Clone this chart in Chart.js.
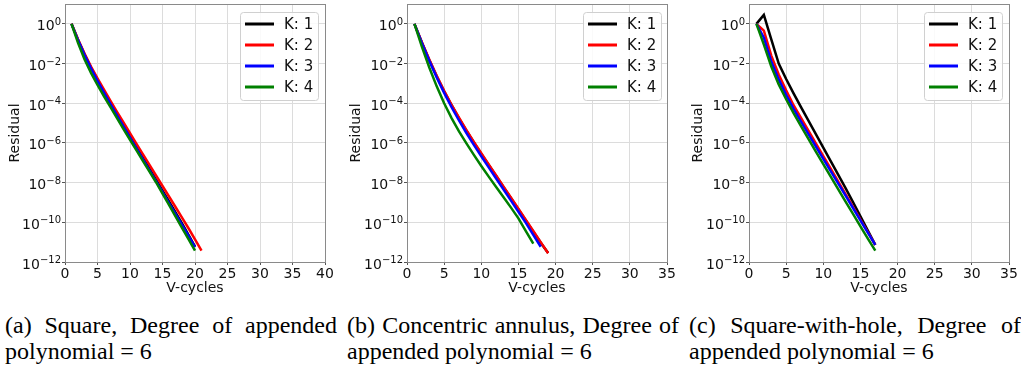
<!DOCTYPE html>
<html>
<head>
<meta charset="utf-8">
<title>Residual vs V-cycles</title>
<script src="https://cdn.jsdelivr.net/npm/chart.js@4.4.1/dist/chart.umd.min.js"></script>
<style>
    html, body { margin: 0; padding: 0; background: #fff; }
    body { width: 1021px; height: 366px; position: relative; overflow: hidden; }
    canvas.panel { position: absolute; top: 0; }
    .cap {
        position: absolute; top: 312px; width: 332px;
        font-family: "Liberation Serif", "DejaVu Serif", serif;
        font-size: 24px; line-height: 26px; color: #000;
    }
    .cap .l1 { text-align: justify; text-align-last: justify; }
</style>
</head>
<body>
<canvas id="chart-a" class="panel" width="340" height="300" style="left:0px"></canvas>
<canvas id="chart-b" class="panel" width="340" height="300" style="left:340px"></canvas>
<canvas id="chart-c" class="panel" width="341" height="300" style="left:680px"></canvas>

<div class="cap" style="left:5px"><div class="l1">(a) Square, Degree of appended</div><div>polynomial = 6</div></div>
<div class="cap" style="left:347px"><div class="l1">(b) Concentric annulus, Degree of</div><div>appended polynomial = 6</div></div>
<div class="cap" style="left:689px"><div class="l1">(c) Square-with-hole, Degree of</div><div>appended polynomial = 6</div></div>

<script>
// V-cycle numbers (x values)
const CYCLES = [1, 2, 3, 4, 5, 6, 7, 8, 9, 10, 11, 12, 13, 14, 15, 16, 17, 18, 19, 20, 21];

// log-scale ticks on the residual axis: 10^exp
const Y_TICKS = [1e0, 1e-2, 1e-4, 1e-6, 1e-8, 1e-10, 1e-12];
const Y_TICK_BASE = "10";
const Y_TICK_EXPONENTS = ["0", "\u22122", "\u22124", "\u22126", "\u22128", "\u221210", "\u221212"];

const SERIES_LABELS = ["K: 1", "K: 2", "K: 3", "K: 4"];
const SERIES_COLORS = ["#000000", "#ff0000", "#0000ff", "#008000"];

// residuals, stored as log10(residual)
// (a) Square
const SQ_K1 = [0, -0.80, -1.53, -2.20, -2.82, -3.40, -3.97, -4.53, -5.09, -5.65, -6.20, -6.75, -7.30, -7.85, -8.40, -8.95, -9.50, -10.06, -10.63, -11.23];
const SQ_K2 = [0, -0.78, -1.50, -2.15, -2.75, -3.32, -3.88, -4.43, -4.97, -5.51, -6.05, -6.58, -7.11, -7.64, -8.17, -8.70, -9.23, -9.76, -10.30, -10.86, -11.43];
const SQ_K3 = [0, -0.82, -1.56, -2.24, -2.87, -3.46, -4.04, -4.61, -5.17, -5.73, -6.28, -6.83, -7.38, -7.93, -8.48, -9.03, -9.58, -10.13, -10.68, -11.25];
const SQ_K4 = [0, -0.95, -1.78, -2.47, -3.08, -3.65, -4.20, -4.75, -5.30, -5.84, -6.38, -6.92, -7.45, -7.98, -8.55, -9.12, -9.70, -10.28, -10.85, -11.43];

// (b) Concentric annulus
const AN_K1 = [0, -0.94, -1.82, -2.64, -3.40, -4.10, -4.76, -5.38, -5.98, -6.55, -7.11, -7.67, -8.23, -8.79, -9.35, -9.91, -10.47, -11.03, -11.55];
const AN_K2 = [0, -0.93, -1.80, -2.62, -3.38, -4.08, -4.73, -5.35, -5.95, -6.52, -7.08, -7.64, -8.20, -8.76, -9.32, -9.88, -10.44, -11.00, -11.56];
const AN_K3 = [0, -0.96, -1.86, -2.70, -3.48, -4.20, -4.87, -5.50, -6.10, -6.67, -7.23, -7.79, -8.35, -8.91, -9.47, -10.03, -10.63, -11.23];
const AN_K4 = [0, -1.15, -2.20, -3.15, -4.00, -4.75, -5.42, -6.02, -6.60, -7.16, -7.70, -8.22, -8.74, -9.26, -9.80, -10.44, -11.08];

// (c) Square-with-hole
const SH_K1 = [0, 0.45, -0.78, -2.00, -2.78, -3.50, -4.20, -4.88, -5.56, -6.24, -6.92, -7.60, -8.28, -8.98, -9.70, -10.42, -11.14];
const SH_K2 = [0, -0.34, -1.60, -2.55, -3.35, -4.10, -4.74, -5.38, -6.02, -6.66, -7.30, -7.94, -8.58, -9.22, -9.86, -10.50, -11.14];
const SH_K3 = [0, -0.70, -1.90, -2.80, -3.58, -4.28, -4.93, -5.56, -6.18, -6.80, -7.42, -8.04, -8.66, -9.28, -9.90, -10.52, -11.14];
const SH_K4 = [0, -1.05, -2.15, -3.05, -3.80, -4.50, -5.15, -5.80, -6.44, -7.07, -7.70, -8.33, -8.96, -9.58, -10.20, -10.82, -11.43];

const FONT = "DejaVu Sans";
const GRID = "#dcdcdc";
const SPINE = "#8a8a8a";
const INK = "#111";

Chart.defaults.font.family = FONT;
Chart.defaults.color = INK;

function toPoints(logs) {
    return logs.map((e, i) => ({ x: CYCLES[i], y: Math.pow(10, e) }));
}

// box around the axes, matplotlib style
const frameBox = {
    id: "frameBox",
    afterDatasetsDraw(chart) {
        const { ctx, chartArea: a } = chart;
        ctx.save();
        ctx.strokeStyle = SPINE;
        ctx.lineWidth = 1;
        ctx.strokeRect(Math.round(a.left) + 0.5, Math.round(a.top) + 0.5,
            Math.round(a.right - a.left), Math.round(a.bottom - a.top));
        ctx.restore();
    }
};

// y tick labels as 10 with a raised exponent
const expTicks = {
    id: "expTicks",
    afterDraw(chart) {
        const { ctx, chartArea: a } = chart;
        const s = chart.scales.y;
        const right = a.left - 4;
        ctx.save();
        ctx.fillStyle = INK;
        ctx.textBaseline = "alphabetic";
        ctx.textAlign = "left";
        Y_TICKS.forEach((v, i) => {
            const py = s.getPixelForValue(v);
            const exp = Y_TICK_EXPONENTS[i];
            ctx.font = `10px ${FONT}`;
            const ew = ctx.measureText(exp).width;
            ctx.font = `14px ${FONT}`;
            const bw = ctx.measureText(Y_TICK_BASE).width;
            ctx.fillText(Y_TICK_BASE, right - ew - bw, py + 6.5);
            ctx.font = `10px ${FONT}`;
            ctx.fillText(exp, right - ew, py + 1);
        });
        ctx.restore();
    }
};

// legend drawn inside the plot, upper right
const legendBox = {
    id: "legendBox",
    afterDraw(chart, args, opts) {
        const { ctx, chartArea: a } = chart;
        const w = 78, h = 88;
        const x = Math.round(a.right - opts.inset - w);
        const y = Math.round(a.top + 8);
        ctx.save();
        ctx.beginPath();
        ctx.roundRect(x + 0.5, y + 0.5, w, h, 3);
        ctx.fillStyle = "rgba(255,255,255,0.85)";
        ctx.fill();
        ctx.strokeStyle = "#d0d0d0";
        ctx.lineWidth = 1;
        ctx.stroke();
        ctx.font = `15px ${FONT}`;
        ctx.textBaseline = "middle";
        chart.data.datasets.forEach((ds, i) => {
            const cy = y + 12 + i * 21;
            ctx.beginPath();
            ctx.moveTo(x + 5, cy);
            ctx.lineTo(x + 34, cy);
            ctx.strokeStyle = ds.borderColor;
            ctx.lineWidth = 3;
            ctx.stroke();
            ctx.fillStyle = INK;
            ctx.fillText(ds.label, x + 44, cy + 1);
        });
        ctx.restore();
    }
};

function makeChart(id, xMax, series, box) {
    const canvas = document.getElementById(id);
    const datasets = series.map((logs, i) => ({
        label: SERIES_LABELS[i],
        data: toPoints(logs),
        borderColor: SERIES_COLORS[i],
        backgroundColor: SERIES_COLORS[i],
        borderWidth: 2.5,
        pointRadius: 0,
        tension: 0,
        fill: false,
        order: series.length - i,
    }));

    return new Chart(canvas.getContext("2d"), {
        type: "line",
        data: { datasets },
        plugins: [frameBox, expTicks, legendBox],
        options: {
            responsive: false,
            animation: false,
            devicePixelRatio: 1,
            layout: { padding: { left: 0, top: 4, right: canvas.width - box.right, bottom: 0 } },
            plugins: {
                legend: { display: false },
                tooltip: { enabled: false },
                legendBox: { inset: box.inset },
            },
            scales: {
                x: {
                    type: "linear",
                    min: 0, max: xMax,
                    afterFit: (s) => { s.height = 38; },
                    ticks: { stepSize: 5, font: { size: 14 }, padding: 1, maxRotation: 0 },
                    grid: { color: GRID, tickColor: "#555", tickLength: 3 },
                    border: { display: false },
                    title: { display: true, text: "V-cycles", font: { size: 14 }, padding: { top: 0, bottom: 3 } },
                },
                y: {
                    type: "logarithmic",
                    min: 1e-12, max: 10,
                    afterFit: (s) => { s.width = box.left; },
                    afterBuildTicks: (s) => { s.ticks = Y_TICKS.map(v => ({ value: v })); },
                    ticks: { display: false, autoSkip: false },
                    grid: { color: GRID, tickColor: "#555", tickLength: 3 },
                    border: { display: false },
                    title: { display: true, text: "Residual", font: { size: 14 }, padding: { top: box.titlePad, bottom: 0 } },
                },
            },
        },
    });
}

makeChart("chart-a", 40, [SQ_K1, SQ_K2, SQ_K3, SQ_K4], { left: 65, right: 325, inset: 7, titlePad: 7 });
makeChart("chart-b", 35, [AN_K1, AN_K2, AN_K3, AN_K4], { left: 67, right: 327, inset: 6, titlePad: 8 });
makeChart("chart-c", 35, [SH_K1, SH_K2, SH_K3, SH_K4], { left: 69, right: 329, inset: 7, titlePad: 10 });
</script>
</body>
</html>
